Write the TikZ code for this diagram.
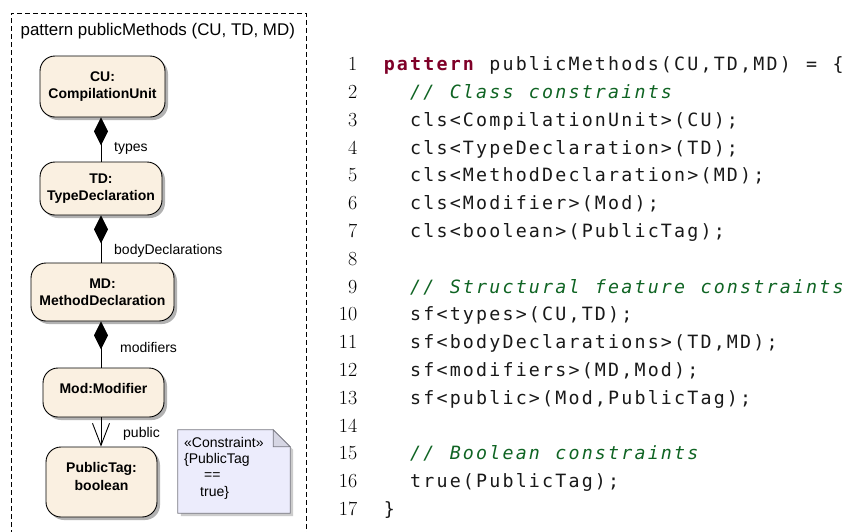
\documentclass[tikz,border=0pt]{standalone}
\usepackage{fontspec}
\setmonofont{DejaVu Sans Mono}
\newfontfamily\arial{Liberation Sans}
\usetikzlibrary{arrows.meta,shadows}
\definecolor{clsfill}{RGB}{250,240,225}
\definecolor{notefill}{RGB}{236,236,252}
\definecolor{notefold}{RGB}{214,214,228}
\definecolor{noteline}{RGB}{120,120,130}
\definecolor{kwcolor}{RGB}{127,0,40}
\definecolor{cmtcolor}{RGB}{15,100,35}
\newlength\codepitch \setlength\codepitch{13.2pt}
\ExplSyntaxOn
\NewDocumentCommand\codetext{m}{\str_map_inline:nn{#1}{\makebox[\codepitch][c]{##1}}}
\ExplSyntaxOff
\newcommand\kw[1]{{\color{kwcolor}\bfseries\codetext{#1}}}
\newcommand\cmt[1]{{\color{cmtcolor}\itshape\codetext{#1}}}
\newcommand\cbrace[1]{\makebox[\codepitch][c]{#1}}
\begin{document}
\begin{tikzpicture}[x=1pt,y=-1pt,
  clsbox/.style={draw, line width=0.9pt, rounded corners=15pt, fill=clsfill, inner sep=0pt, align=center,
    font=\arial\bfseries\fontsize{14}{17.5}\selectfont,
    drop shadow={shadow xshift=3pt, shadow yshift=-3pt, opacity=1, fill=black!30}},
  lbl/.style={font=\arial\fontsize{14}{16}\selectfont, inner sep=0pt, anchor=base west},
  notetxt/.style={font=\arial\fontsize{14}{16}\selectfont, inner sep=0pt, anchor=base west},
  conn/.style={line width=0.9pt},
  comp/.style={conn, {Diamond[length=28pt,width=14pt]}-},
  nav/.style={conn, -{Straight Barb[length=22pt,width=17pt,line width=0.9pt]}},
  frame/.style={line width=0.9pt, dash pattern=on 5pt off 3pt},
  codeline/.style={font=\ttfamily\fontsize{18.3}{22}\selectfont, text=black!90, inner sep=0pt, anchor=base west},
  numline/.style={font=\fontsize{20}{24}\selectfont, inner sep=0pt, anchor=base east},
]
\useasboundingbox (0,0) rectangle (847,531);
\fill[white] (0,0) rectangle (847,531);

% frame
\draw[frame] (11,535) -- (11,13.3) -- (306.7,13.3) -- (306.7,535);
\node[font=\arial\fontsize{16.9}{19}\selectfont, inner sep=0pt, anchor=base west] (title) at (20.5,35) {pattern publicMethods (CU, TD, MD)};

% classes
\node[clsbox, minimum width=125pt, minimum height=61pt] (CU) at (102.5,86.5) {CU:\\CompilationUnit};
\node[clsbox, minimum width=122pt, minimum height=53pt] (TD) at (101,188.5) {TD:\\TypeDeclaration};
\node[clsbox, minimum width=143pt, minimum height=58pt] (MD) at (102.5,292) {MD:\\MethodDeclaration};
\node[clsbox, minimum width=121pt, minimum height=49pt] (Mod) at (103.5,392.5) {Mod:Modifier\rule[-9pt]{0pt}{0pt}};
\node[clsbox, minimum width=111pt, minimum height=70pt] (PT) at (101.5,482) {PublicTag:\\boolean\rule[-11pt]{0pt}{0pt}};

% connectors
\coordinate (sp) at (101,0);
\draw[comp] (CU.south -| sp) -- (TD.north -| sp);
\draw[comp] (TD.south -| sp) -- (MD.north -| sp);
\draw[comp] (MD.south -| sp) -- (Mod.north -| sp);
\draw[nav] (Mod.south -| sp) -- (PT.north -| sp);

\node[lbl] (lt) at (114,151) {types};
\node[lbl] (lb) at (114,254) {bodyDeclarations};
\node[lbl] (lm) at (120,352) {modifiers};
\node[lbl] (lp) at (123,437.5) {public};

% note
\node[minimum width=112pt, minimum height=83pt, inner sep=0pt] (note) at (234,471.5) {};
\fill[black!20] ([shift={(3pt,-3pt)}]note.north west) -- ([shift={(-14pt,-3pt)}]note.north east) -- ([shift={(3pt,-20pt)}]note.north east) -- ([shift={(3pt,-3pt)}]note.south east) -- ([shift={(3pt,-3pt)}]note.south west) -- cycle;
\path[fill=notefill, draw=noteline, line width=0.8pt] (note.north west) -- ([xshift=-17pt]note.north east) -- ([yshift=-17pt]note.north east) -- (note.south east) -- (note.south west) -- cycle;
\path[fill=notefold, draw=noteline, line width=0.8pt] ([xshift=-17pt]note.north east) -- ([xshift=-17pt,yshift=-17pt]note.north east) -- ([yshift=-17pt]note.north east) -- cycle;
\node[notetxt] (n1) at (184,447) {«Constraint»};
\node[notetxt] (n2) at (184,463.3) {\{PublicTag};
\node[notetxt] (n3) at (204,479.6) {==};
\node[notetxt] (n4) at (200,496) {true\}};

% code listing
\node[numline] (k1) at (357.5,70.7) {1};
\node[numline] (k2) at (357.5,98.5) {2};
\node[numline] (k3) at (357.5,126.3) {3};
\node[numline] (k4) at (357.5,154.1) {4};
\node[numline] (k5) at (357.5,181.9) {5};
\node[numline] (k6) at (357.5,209.7) {6};
\node[numline] (k7) at (357.5,237.5) {7};
\node[numline] (k8) at (357.5,265.3) {8};
\node[numline] (k9) at (357.5,293.1) {9};
\node[numline] (k10) at (357.5,320.9) {10};
\node[numline] (k11) at (357.5,348.7) {11};
\node[numline] (k12) at (357.5,376.5) {12};
\node[numline] (k13) at (357.5,404.3) {13};
\node[numline] (k14) at (357.5,432.1) {14};
\node[numline] (k15) at (357.5,459.9) {15};
\node[numline] (k16) at (357.5,487.7) {16};
\node[numline] (k17) at (357.5,515.5) {17};

\node[codeline] (c1) at (382.5,70.7) {\kw{pattern}\codetext{ publicMethods(CU,TD,MD) = }\cbrace{\{}};
\node[codeline] (c2) at (408.9,98.5) {\cmt{// Class constraints}};
\node[codeline] (c3) at (408.9,126.3) {\codetext{cls<CompilationUnit>(CU);}};
\node[codeline] (c4) at (408.9,154.1) {\codetext{cls<TypeDeclaration>(TD);}};
\node[codeline] (c5) at (408.9,181.9) {\codetext{cls<MethodDeclaration>(MD);}};
\node[codeline] (c6) at (408.9,209.7) {\codetext{cls<Modifier>(Mod);}};
\node[codeline] (c7) at (408.9,237.5) {\codetext{cls<boolean>(PublicTag);}};
\node[codeline] (c9) at (408.9,293.1) {\cmt{// Structural feature constraints}};
\node[codeline] (c10) at (408.9,320.9) {\codetext{sf<types>(CU,TD);}};
\node[codeline] (c11) at (408.9,348.7) {\codetext{sf<bodyDeclarations>(TD,MD);}};
\node[codeline] (c12) at (408.9,376.5) {\codetext{sf<modifiers>(MD,Mod);}};
\node[codeline] (c13) at (408.9,404.3) {\codetext{sf<public>(Mod,PublicTag);}};
\node[codeline] (c15) at (408.9,459.9) {\cmt{// Boolean constraints}};
\node[codeline] (c16) at (408.9,487.7) {\codetext{true(PublicTag);}};
\node[codeline] (c17) at (382.5,515.5) {\cbrace{\}}};
\end{tikzpicture}
\end{document}
